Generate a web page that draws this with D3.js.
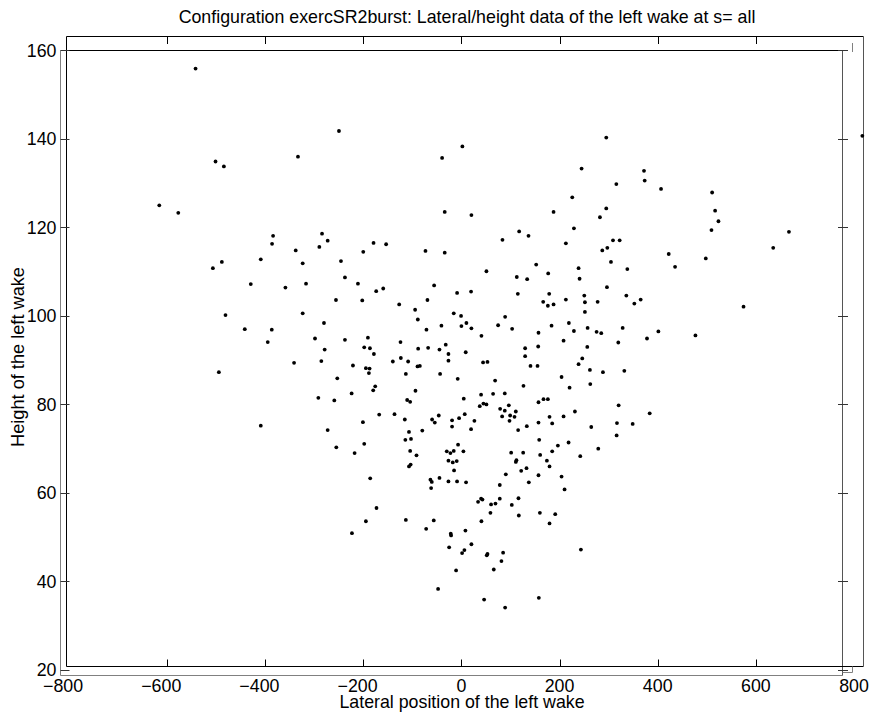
<!DOCTYPE html>
<html>
<head>
<meta charset="utf-8">
<script src="https://cdn.jsdelivr.net/npm/d3@7"></script>
<style>
  body { margin: 0; background: #fff; }
  svg text { font-family: "Liberation Sans", Arial, Helvetica, sans-serif; fill: #000; }
</style>
</head>
<body>
<div id="chart"></div>
<script>
// Lateral position / height of the left wake
var lateral = [
    -541.7, -249.5, -501, -484, -333, -39.3, -615.6, -576.9, -34, -383.7,
    -385.8, -284, -272.5, -289.5, -337.6, -179, -153.4, -200, -73.2, -34,
    -408.8, -488.1, -506.4, -323.4, -245.4, -429.2, -358.6, -316.6, -237.3, -210.8,
    -173.6, -159.3, -255.6, -202, -126.8, -55.6, -69.2, -8.8, -94.3, -88.8,
    -15.6, -480.7, -323.4, -441.4, -386.4, -394.6, -280, -71.2, -40.7, -298.3,
    -237.3, -190.5, -124.1, -31.9, -278.6, -198, -186.4, -178.3, -88.1, -67.8,
    -44.7, -26.4, -26.4, -341, -285.4, -221, -194.6, -187.1, -139.7, -123.4,
    -108.5, -89.5, -84.7, -188.5, -113.2, -43.4, -7.5, -494.2, -252.9, -175.6,
    -179.7, -223.7, -93.6, -291.5, -259, -110.5, -104.4, -408.8, -167.5, -136.3,
    -115.3, -200.7, -59.7, -46.1, -54.2, -19, -19, -4.7, -272.5, -79.7,
    -106.8, -114.2, -102.7, -198, -254.9, -217.6, -104.4, -91.5, -29.8, -22.4,
    -15.6, -26.4, -17.6, -9.5, -103.4, -106.8, -14.9, -6.8, -185.8, -63.1,
    -60.3, -61.7, -44.7, -26.4, -8.8, -173, -194.6, -223, -113.2, -71.8,
    -56.3, -21.7, -21, -25, -10.8, -47.5,
    2, 295.2, 817, 244.9, 372.1, 373.5, 315.7, 406.8, 510.9, 225.9,
    517, 523.8, 187.8, 295.2, 282.3, 20.4, 229.3, 509.6, 667.4, 117.7,
    136.7, 83.7, 212.9, 308.9, 322.5, 287.1, 297.3, 635.4, 422.5, 498,
    435.4, 304.8, 152.4, 238.8, 338.1, 51, 176.9, 112.9, 134, 240.8,
    296.6, 19.7, 115, 178.9, 250.4, 336.1, 212.9, 166.7, 176.2, 187.8,
    251.7, 277.6, 352.4, 365.3, 251.7, 574.9, -0.7, 0, 10.2, 20.4,
    89.1, 74.8, 103.4, 40.8, 157.1, 183.7, 219, 229.3, 257.2, 275.5,
    285, 328.6, 401.4, 378.2, 476.9, 319.7, 208.2, 256.5, 156.5, 129.9,
    129.9, 8.8, 44.2, 53.1, 246.3, 238.8, 140.8, 155.1, 261.9, 288.4,
    332, 204.1, 68.7, 220.4, 262.6, 126.5, 4.8, 40.1, 64.6, 88.4,
    167.3, 176.2, 157.1, 37.4, 44.9, 51, 78.9, 88.4, 96.6, 110.9,
    83, 99.3, 108.2, 98, 6.8, 26.5, 19.7, 115.6, 133.3, 157.1,
    179.6, 185, 208.2, 231.3, 320.4, 383.7, 317, 349, 264.6, 316.3,
    158.5, 218.4, 196.6, 185, 278.9, 4.1, 101.4, 125.9, 160.5, 242.2,
    112.2, 110.9, 174.2, 179.6, 132.7, 121.8, 90.5, 157.1, 204.1, 210.2,
    9.5, 78.2, 137.4, 34, 40.1, 42.9, 60.5, 69.4, 78.2, 102.7,
    116.3, 59.2, 117, 159.9, 191.2, 179.6, 40.8, 8.2, 20.4, 6.1,
    1.4, 53.1, 51.7, 85, 81.6, 66, 243.5, 46.3, 89.1, 157.8
];
var height = [
    155.8, 141.7, 134.8, 133.7, 135.9, 135.6, 124.9, 123.2, 123.4, 118,
    116.2, 118.5, 116.9, 115.5, 114.7, 116.4, 116.1, 114.4, 114.6, 114.2,
    112.7, 112.1, 110.7, 111.8, 112.3, 107.1, 106.3, 107.2, 108.6, 107.2,
    105.5, 106.1, 103.5, 103.4, 102.5, 106.8, 103.5, 105.1, 101.3, 99.1,
    100.5, 100.1, 100.5, 96.9, 96.8, 94, 98.3, 96.8, 97.7, 94.8,
    94.5, 95, 94, 93.4, 92.3, 92.8, 92.6, 91.3, 92.5, 92.7,
    92.3, 91.3, 89.8, 89.3, 89.7, 88.7, 88.1, 88, 89.6, 90.4,
    89.6, 88.5, 88.6, 87, 86.8, 86.8, 85.7, 87.2, 85.8, 84,
    83.1, 82.4, 83, 81.4, 80.8, 80.9, 80.5, 75.1, 77.6, 77.7,
    76.5, 75.9, 76.5, 77.4, 75.8, 76.3, 74.9, 76.8, 74.1, 74,
    73.7, 71.9, 72.1, 71, 70.2, 68.9, 69.4, 68.4, 69.3, 68.9,
    69.4, 67.2, 66.8, 67.1, 66.3, 65.9, 65, 70.8, 63.2, 62.9,
    62.4, 61, 63.3, 62.5, 62.5, 56.5, 53.5, 50.8, 53.8, 51.8,
    53.7, 50.7, 50.3, 47.6, 42.4, 38.2,
    138.2, 140.2, 140.6, 133.2, 132.7, 130.5, 129.7, 128.6, 127.8, 126.7,
    123.7, 121.3, 123.4, 124.2, 122.2, 122.7, 119.7, 119.3, 118.9, 119,
    118, 117.1, 116.3, 117, 117, 114.7, 115.3, 115.3, 113.9, 112.9,
    111, 112.1, 111.5, 110.7, 110.5, 110, 109.5, 108.7, 108.2, 108.3,
    106.4, 105.4, 104.9, 104.9, 104.5, 104.5, 103.6, 103.1, 102.2, 102.5,
    103, 103.1, 102.7, 103.6, 100.8, 102, 99.9, 97.6, 98.3, 97.1,
    99.7, 97.8, 97, 95.4, 96.1, 97.7, 98.3, 96.5, 97.2, 96.3,
    96, 97.2, 96.4, 94.8, 95.5, 93.9, 94.3, 92.9, 93, 92.6,
    90.8, 91.7, 89.4, 89.5, 90.3, 89, 88.6, 88.6, 87.7, 87.2,
    87.5, 86.1, 85.3, 83.7, 84.5, 84.1, 81.2, 82.1, 82.3, 82.4,
    81.1, 81.1, 80.4, 79.5, 80.1, 79.9, 78.9, 78.5, 79.7, 78.3,
    77.2, 77.4, 77.1, 76.2, 77.7, 76.2, 74.3, 74.1, 75, 75.8,
    77.1, 75.6, 77.2, 78.3, 79.7, 77.9, 75.7, 75.5, 74.8, 72.9,
    71.9, 71.3, 70.6, 69.3, 69.9, 69.3, 69, 69, 68.5, 68.2,
    67.3, 66.9, 67.2, 65.9, 65.5, 64.9, 64.1, 63.9, 63.6, 60.7,
    62.3, 61.7, 62.3, 57.9, 58.6, 58.4, 57.3, 57.5, 58.6, 57.2,
    58.7, 55.4, 54.8, 55.4, 55.1, 53, 53.5, 51.4, 48.3, 47,
    46.3, 46.1, 45.8, 46.4, 44.5, 42.6, 47.1, 35.8, 34, 36.2
];

var xTicks = [-800, -600, -400, -200, 0, 200, 400, 600, 800];
var yTicks = [20, 40, 60, 80, 100, 120, 140, 160];

var title = 'Configuration exercSR2burst: Lateral/height data of the left wake at s= all',
    xTitle = 'Lateral position of the left wake',
    yTitle = 'Height of the left wake';

var width = 869,
    svgHeight = 715,
    grey = '#808080',
    fontSize = '17.8px';

// Two overlapping frames, as in the original figure
var outer = { left: 66.5, right: 863.5, top: 36.5, bottom: 666.5 },
    inner = { left: 60.5, right: 842.5, top: 50.5, bottom: 675.5 };

var xScale = d3.scaleLinear().domain([-800, 800]).range([68.8, 854]);
var yScale = d3.scaleLinear().domain([20, 160]).range([669.5, 50]);

var svg = d3.select('#chart').append('svg')
    .attr('width', width)
    .attr('height', svgHeight)
    .attr('viewBox', `0 0 ${width} ${svgHeight}`);

svg.append('rect').attr('width', width).attr('height', svgHeight).attr('fill', '#fff');

var frame = svg.append('g').attr('fill', 'none').attr('stroke-width', 1);

function seg(x1, y1, x2, y2, color) {
    frame.append('line')
        .attr('x1', x1).attr('y1', y1)
        .attr('x2', x2).attr('y2', y2)
        .attr('stroke', color);
}

// inner (grey) frame
seg(inner.left, inner.top, inner.left, inner.bottom, grey);
seg(inner.left, inner.bottom, inner.right, inner.bottom, grey);
seg(inner.right, inner.top, inner.right, inner.bottom, '#555');
seg(inner.left, inner.top, outer.left, inner.top, grey);
seg(outer.left, inner.top, inner.right, inner.top, '#000');

// outer (black) frame
seg(outer.left, outer.top, outer.right, outer.top, '#000');
seg(outer.left, outer.top, outer.left, outer.bottom, '#000');
seg(outer.left, outer.bottom, outer.right, outer.bottom, '#000');
seg(outer.right, outer.top, outer.right, outer.bottom, '#555');

// x ticks on the outer frame
xTicks.slice(1, -1).forEach(function(v) {
    var x = Math.round(xScale(v)) + 0.5;
    seg(x, outer.bottom, x, outer.bottom - 7, '#000');
    seg(x, outer.top, x, outer.top + 7.5, '#000');
});

// stray marks at x = 800
var x800 = Math.round(xScale(800)) - 1.5;
seg(x800, 43, x800, 52, grey);
seg(x800, outer.bottom, x800, outer.bottom + 6, grey);
seg(inner.right, outer.bottom + 6, x800, outer.bottom + 6, grey);

// y ticks on the inner frame
yTicks.forEach(function(v) {
    var y = Math.round(yScale(v)) + 0.5;
    seg(inner.left, y, inner.left + 9, y, '#333');
    seg(inner.right - 4.5, y, inner.right + 5.5, y, '#333');
});

// tick labels
var fmt = d3.format('d');
svg.append('g').selectAll('text')
    .data(xTicks)
    .enter().append('text')
    .attr('x', (d) => xScale(d))
    .attr('y', 692)
    .attr('dx', (d) => d < 0 ? '-0.32em' : 0)
    .attr('text-anchor', 'middle')
    .style('font-size', fontSize)
    .text((d) => fmt(d));

svg.append('g').selectAll('text')
    .data(yTicks)
    .enter().append('text')
    .attr('x', 56.5)
    .attr('y', (d) => yScale(d))
    .attr('dy', '0.38em')
    .attr('text-anchor', 'end')
    .style('font-size', fontSize)
    .text((d) => fmt(d));

// titles
svg.append('text')
    .attr('x', 467)
    .attr('y', 22.5)
    .attr('text-anchor', 'middle')
    .style('font-size', fontSize)
    .text(title);

svg.append('text')
    .attr('x', 462)
    .attr('y', 707.5)
    .attr('text-anchor', 'middle')
    .style('font-size', fontSize)
    .text(xTitle);

svg.append('text')
    .attr('transform', 'translate(24,357) rotate(-90)')
    .attr('text-anchor', 'middle')
    .style('font-size', '18.2px')
    .text(yTitle);

// markers
svg.append('g').selectAll('circle')
    .data(d3.range(lateral.length))
    .enter().append('circle')
    .attr('cx', (i) => xScale(lateral[i]))
    .attr('cy', (i) => yScale(height[i]))
    .attr('r', 1.9)
    .attr('fill', '#000');
</script>
</body>
</html>
